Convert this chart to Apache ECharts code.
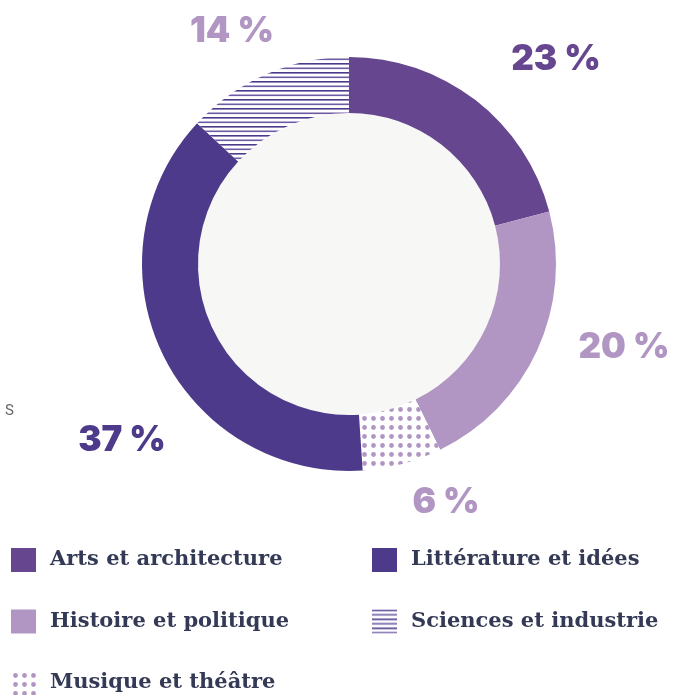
<!DOCTYPE html>
<html>
<head>
<meta charset="utf-8">
<script src="https://cdn.jsdelivr.net/npm/echarts@6/dist/echarts.min.js"></script>
<style>
  html, body { margin: 0; padding: 0; background: #fff; }
  #chart { width: 681px; height: 695px; }
</style>
</head>
<body>
<div id="chart"></div>
<script>
// categories, clockwise from the top
var categories = ['Arts et architecture', 'Histoire et politique', 'Musique et théâtre', 'Littérature et idées', 'Sciences et industrie']
var shares = [20.9, 21.8, 6.2, 37.9, 13.1]
// printed percentage labels
var percentLabels = ['23 %', '20 %', '6 %', '37 %', '14 %']

// legend order, reading left to right then down
var legendOrder = ['Arts et architecture', 'Littérature et idées', 'Histoire et politique', 'Sciences et industrie', 'Musique et théâtre']

var labelPos = [[556, 59], [624, 347], [446, 502], [122, 440], [232, 31]]
var labelColors = ['#66468f', '#b196c4', '#b196c4', '#4d3a8b', '#b196c4']

function dotPattern() {
  var c = document.createElement('canvas')
  c.width = 9; c.height = 9
  var ctx = c.getContext('2d')
  ctx.fillStyle = '#fff'
  ctx.fillRect(0, 0, 9, 9)
  ctx.fillStyle = '#b196c4'
  ctx.beginPath()
  ctx.arc(4.5, 4.5, 2.4, 0, Math.PI * 2)
  ctx.fill()
  return { image: c, repeat: 'repeat' }
}

function linePattern() {
  var c = document.createElement('canvas')
  c.width = 9; c.height = 9
  var ctx = c.getContext('2d')
  ctx.fillStyle = '#fff'
  ctx.fillRect(0, 0, 9, 9)
  ctx.fillStyle = '#4d3a8b'
  ctx.fillRect(0, 0, 9, 1.6)
  ctx.fillStyle = '#6f5ba3'
  ctx.fillRect(0, 4.5, 9, 1.6)
  return { image: c, repeat: 'repeat' }
}

var sliceColors = ['#66468f', '#b196c4', dotPattern(), '#4d3a8b', linePattern()]

var pieData = []
for (var i = 0; i < categories.length; i++) {
  pieData.push({
    name: categories[i],
    value: shares[i],
    itemStyle: { color: sliceColors[i] },
    label: { formatter: percentLabels[i], color: labelColors[i] }
  })
}

var legends = []
for (var j = 0; j < legendOrder.length; j++) {
  legends.push({
    data: [legendOrder[j]],
    left: j % 2 === 0 ? 11 : 372,
    top: 548 + Math.floor(j / 2) * 61.5,
    padding: 0,
    itemWidth: 25,
    itemHeight: 24,
    icon: 'rect',
    selectedMode: false,
    textStyle: {
      fontFamily: 'DejaVu Serif',
      fontWeight: 'bold',
      fontSize: 21,
      color: '#343a56',
      padding: [0, 0, 0, 9]
    }
  })
}

var chart = echarts.init(document.getElementById('chart'))
chart.setOption({
  animation: false,
  graphic: [{
    type: 'text',
    left: 5,
    top: 404,
    style: { text: 'S', fontSize: 15, fill: '#666', fontFamily: 'Roboto' }
  }],
  legend: legends,
  series: [
    {
      type: 'pie',
      center: [349, 264],
      radius: [0, 151],
      silent: true,
      label: { show: false },
      labelLine: { show: false },
      data: [{ name: 'inner', value: 1, itemStyle: { color: '#f7f7f5' } }]
    },
    {
      type: 'pie',
      center: [349, 264],
      radius: [151, 207],
      startAngle: 90,
      clockwise: true,
      avoidLabelOverlap: false,
      itemStyle: { borderWidth: 0 },
      label: {
        show: true,
        position: 'outside',
        fontFamily: 'Inter',
        fontWeight: 900,
        fontSize: 35
      },
      labelLine: { show: false },
      labelLayout: function(params) {
        var p = labelPos[params.dataIndex]
        return { x: p[0], y: p[1], align: 'center', verticalAlign: 'middle' }
      },
      data: pieData
    }
  ]
})
</script>
</body>
</html>
